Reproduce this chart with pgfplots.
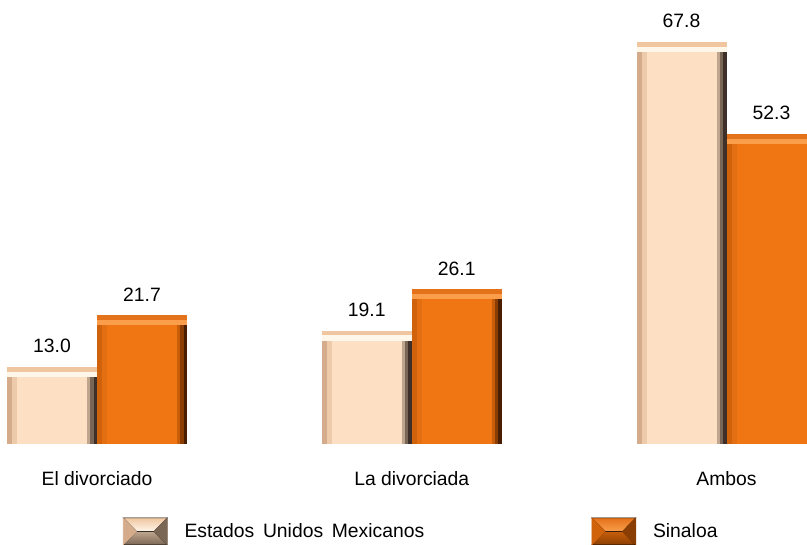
\documentclass[border=0pt]{standalone}
\usepackage{pgfplots}
\pgfplotsset{compat=1.18}
\usepackage{fontspec}
\setmainfont{Liberation Sans}

% light (Estados Unidos Mexicanos) palette
\definecolor{lface}{HTML}{FDE0C3}
\definecolor{ltA}{HTML}{F0C6A0}
\definecolor{ltB}{HTML}{FFF6EA}
\definecolor{lrA}{HTML}{BFA58E}
\definecolor{lrB}{HTML}{7A6654}
\definecolor{lrC}{HTML}{3E3028}
\definecolor{llA}{HTML}{D4AC8C}
\definecolor{llB}{HTML}{EDCBAA}
% orange (Sinaloa) palette
\definecolor{oface}{HTML}{F07614}
\definecolor{otA}{HTML}{E4721A}
\definecolor{otB}{HTML}{FA9E4C}
\definecolor{orA}{HTML}{C85E0A}
\definecolor{orB}{HTML}{8A3E04}
\definecolor{orC}{HTML}{4A1E00}
\definecolor{olA}{HTML}{D0620C}
\definecolor{olB}{HTML}{E46E12}

% one layer of a bevelled bar: #1 x, #2 value, #3 width, #4 shift, #5 yshift, #6 colour
\newcommand{\barlayer}[6]{%
  \addplot[ybar, bar width=#3pt, bar shift=#4pt, yshift=#5pt, fill=#6, draw=none, forget plot] coordinates {(#1,#2)};}

% light bar (left of pair): #1 x, #2 value
\newcommand{\lightbar}[2]{%
  \addplot[ybar, bar width=67.5pt, bar shift=-33.75pt, fill=ltA, draw=none, forget plot,
    nodes near coords={\pgfmathprintnumber[fixed,fixed zerofill,precision=1]{\pgfplotspointmeta}},
    every node near coord/.append style={xshift=-33.75pt}] coordinates {(#1,#2)};
  \barlayer{#1}{#2}{67.5}{-33.75}{-3.5}{ltB}
  \barlayer{#1}{#2}{67.5}{-33.75}{-7.5}{lrC}
  \barlayer{#1}{#2}{65}{-35}{-7.5}{lrB}
  \barlayer{#1}{#2}{62.5}{-36.25}{-7.5}{lrA}
  \barlayer{#1}{#2}{60}{-37.5}{-7.5}{llA}
  \barlayer{#1}{#2}{56.25}{-35.625}{-7.5}{llB}
  \barlayer{#1}{#2}{52.5}{-33.75}{-7.5}{lface}
}
% orange bar (right of pair)
\newcommand{\orangebar}[2]{%
  \addplot[ybar, bar width=67.5pt, bar shift=33.75pt, fill=otA, draw=none, forget plot,
    nodes near coords={\pgfmathprintnumber[fixed,fixed zerofill,precision=1]{\pgfplotspointmeta}},
    every node near coord/.append style={xshift=33.75pt}] coordinates {(#1,#2)};
  \barlayer{#1}{#2}{67.5}{33.75}{-3.5}{otB}
  \barlayer{#1}{#2}{67.5}{33.75}{-7.5}{orC}
  \barlayer{#1}{#2}{65}{32.5}{-7.5}{orB}
  \barlayer{#1}{#2}{62.5}{31.25}{-7.5}{orA}
  \barlayer{#1}{#2}{60}{30}{-7.5}{olA}
  \barlayer{#1}{#2}{56.25}{31.875}{-7.5}{olB}
  \barlayer{#1}{#2}{52.5}{33.75}{-7.5}{oface}
}

\begin{document}
\fontsize{14.5}{17}\selectfont
\begin{tikzpicture}
\begin{axis}[
  scale only axis,
  width=605.25pt, height=333pt,
  xmin=-0.3082, xmax=2.2557,
  ymin=0, ymax=74.88,
  axis line style={draw=none},
  tick style={draw=none},
  ytick=\empty,
  xtick={0,1,2},
  xticklabels={El divorciado, La divorciada, Ambos},
  x tick label style={font=\fontsize{14.5}{17}\selectfont, anchor=base, yshift=-31.5pt},
  /pgf/number format/assume math mode=true,
  every node near coord/.append style={font=\fontsize{14.5}{17}\selectfont, anchor=base, yshift=10.5pt, text=black},
  legend columns=2,
  legend style={draw=none, fill=none, inner sep=0pt, outer sep=0pt, column sep=12.75pt,
    at={(axis description cs:0.1524,-0.197)}, anchor=west,
    nodes={inner sep=0pt, font=\fontsize{14.5}{17}\selectfont}},
]
\lightbar{0}{13.0}
\orangebar{0}{21.7}
\lightbar{1}{19.1}
\orangebar{1}{26.1}
\lightbar{2}{67.8}
\orangebar{2}{52.3}
\addlegendimage{legend image code/.code={
  \shade[top color=ltA, bottom color=ltB] (0pt,10.125pt)--(33pt,10.125pt)--(23pt,0pt)--(10pt,0pt)--cycle;
  \shade[top color=lrA, bottom color=lrB] (0pt,-10.125pt)--(33pt,-10.125pt)--(23pt,0pt)--(10pt,0pt)--cycle;
  \fill[llA] (0pt,10.125pt)--(10pt,0pt)--(0pt,-10.125pt)--cycle;
  \fill[lrB] (33pt,10.125pt)--(23pt,0pt)--(33pt,-10.125pt)--cycle;}}
\addlegendentry{\makebox[292.5pt][l]{Estados\hspace{6.5pt}Unidos\hspace{6.5pt}Mexicanos}}
\addlegendimage{legend image code/.code={
  \shade[top color=otA, bottom color=otB] (0pt,10.125pt)--(33pt,10.125pt)--(23pt,0pt)--(10pt,0pt)--cycle;
  \shade[top color=orA, bottom color=orB] (0pt,-10.125pt)--(33pt,-10.125pt)--(23pt,0pt)--(10pt,0pt)--cycle;
  \fill[olA] (0pt,10.125pt)--(10pt,0pt)--(0pt,-10.125pt)--cycle;
  \fill[orB] (33pt,10.125pt)--(23pt,0pt)--(33pt,-10.125pt)--cycle;}}
\addlegendentry{Sinaloa}
\end{axis}
\pgfresetboundingbox
\useasboundingbox (0,-75.75pt) rectangle (605.25pt,333pt);
\end{tikzpicture}
\end{document}
